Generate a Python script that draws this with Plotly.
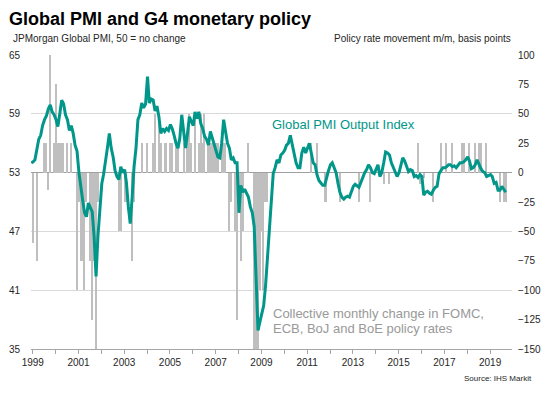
import plotly.graph_objects as go
import pandas as pd

# ---------------- data ----------------
months = pd.date_range("1999-01-01", periods=250, freq="MS")

pmi = [
    54.0, 54.1, 54.3, 55.5, 56.4, 56.8, 57.8, 58.4, 58.8, 59.5, 59.9, 59.2,  # 1999
    58.9, 58.4, 57.7, 59.0, 60.4, 60.0, 58.9, 58.4, 57.3, 57.8, 57.0, 55.8,  # 2000
    55.2, 53.0, 51.5, 50.2, 48.9, 48.5, 49.9, 49.5, 49.0, 46.5, 42.4, 46.5,  # 2001
    49.5, 51.9, 52.8, 54.0, 55.5, 57.0, 55.5, 54.6, 53.2, 52.6, 52.3, 53.6,  # 2002
    53.0, 53.3, 52.0, 49.5, 47.8, 50.5, 53.6, 55.5, 58.4, 58.9, 60.1, 59.6,  # 2003
    60.0, 62.8, 60.1, 60.5, 60.4, 59.3, 59.8, 58.7, 57.0, 57.5, 57.2, 57.5,  # 2004
    57.3, 57.9, 57.5, 56.8, 56.0, 55.5, 56.5, 58.9, 57.0, 55.5, 57.0, 58.7,  # 2005
    58.2, 57.8, 59.2, 58.5, 59.2, 58.0, 57.5, 56.7, 56.4, 55.8, 57.2, 56.5,  # 2006
    56.0, 55.2, 54.6, 54.5, 56.0, 58.4, 57.0, 56.0, 55.5, 54.3, 54.5, 54.0,  # 2007
    54.0, 48.9, 51.7, 51.0, 51.3, 50.8, 50.5, 49.5, 48.9, 47.5, 43.0, 36.9,  # 2008
    37.8, 38.7, 39.4, 41.5, 44.5, 47.5, 49.5, 52.9, 53.5, 54.3, 54.0, 54.8,  # 2009
    55.0, 55.3, 55.8, 56.0, 56.8, 55.8, 55.0, 54.0, 53.5, 53.5, 55.0, 55.6,  # 2010
    55.0, 55.6, 56.0, 55.0, 54.0, 53.8, 52.8, 52.2, 51.9, 51.7, 51.7, 52.5,  # 2011
    53.2, 53.8, 54.0, 53.5, 53.0, 51.9, 51.0, 50.5, 50.3, 50.5, 50.6, 50.5,  # 2012
    51.0, 51.6, 51.8, 51.6, 51.5, 52.0, 52.6, 53.0, 53.3, 53.8, 53.5, 53.0,  # 2013
    52.9, 53.5, 53.8, 52.6, 53.0, 54.0, 55.1, 55.0, 54.8, 54.0, 53.5, 52.9,  # 2014
    52.6, 53.0, 53.8, 54.5, 54.2, 53.5, 53.1, 53.3, 53.2, 52.6, 52.7, 52.5,  # 2015
    52.8, 52.6, 50.7, 51.0, 51.1, 50.9, 50.8, 51.2, 51.5, 51.6, 52.9, 53.2,  # 2016
    53.5, 53.5, 53.6, 53.8, 53.8, 53.6, 53.7, 53.5, 53.8, 54.0, 54.0, 54.1,  # 2017
    54.3, 54.6, 54.2, 53.4, 53.5, 53.8, 54.3, 53.8, 53.4, 53.1, 53.0, 52.6,  # 2018
    52.7, 52.8, 52.6, 51.9, 52.0, 51.2, 51.2, 51.6, 51.3, 51.0,              # 2019
]

policy_months = [
    "1999-02", "1999-04", "1999-08", "1999-09", "1999-10", "1999-11",
    "2000-01", "2000-02", "2000-03", "2000-04", "2000-05", "2000-06", "2000-08", "2000-10",
    "2001-01", "2001-02", "2001-03", "2001-04", "2001-05", "2001-06", "2001-08",
    "2001-09", "2001-10", "2001-11", "2001-12",
    "2002-11", "2002-12",
    "2003-02", "2003-03", "2003-06", "2003-07", "2003-11",
    "2004-02", "2004-05", "2004-06", "2004-08", "2004-09", "2004-11", "2004-12",
    "2005-02", "2005-03", "2005-05", "2005-06", "2005-09", "2005-11", "2005-12",
    "2006-01", "2006-03", "2006-05", "2006-06", "2006-07", "2006-08", "2006-10", "2006-11", "2006-12",
    "2007-01", "2007-02", "2007-03", "2007-05", "2007-06", "2007-07", "2007-09", "2007-10", "2007-12",
    "2008-01", "2008-02", "2008-03", "2008-04", "2008-07", "2008-10", "2008-11", "2008-12",
    "2009-01", "2009-02", "2009-03", "2009-04", "2009-05",
    "2011-04", "2011-07", "2011-11", "2011-12",
    "2012-07", "2013-05", "2013-11", "2014-06", "2014-09",
    "2015-12", "2016-01", "2016-03", "2016-08", "2016-12",
    "2017-03", "2017-06", "2017-11", "2017-12",
    "2018-03", "2018-06", "2018-08", "2018-09", "2018-12",
    "2019-07", "2019-09", "2019-10",
]
policy_bp = [
    -60, -75, 25, 25, -15, 100,
    25, 75, 25, 25, 25, 25, 25, 25,
    -100, -25, -75, -75, -100, -25, -75,
    -125, -75, -150, -25,
    -50, -50,
    -25, -25, -75, -25, 25,
    25, 25, 50, 50, 25, 25, 25,
    25, 25, 25, 25, 25, 25, 50,
    25, 50, 25, 50, 25, 50, 25, 25, 25,
    25, 25, 25, 25, 25, 25, -50, -25, -50,
    -125, -25, -75, -50, 25, -150, -150, -150,
    -100, -50, -100, -25, -25,
    25, 25, -25, -25,
    -25, -25, -25, -10, -10,
    25, -10, -5, -25, 25,
    25, 25, 25, 25,
    25, 25, 25, 25, 25,
    -25, -25, -25,
]

pmi_ticks = [35, 41, 47, 53, 59, 65]
bp_ticks = [-150, -125, -100, -75, -50, -25, 0, 25, 50, 75, 100]
year_ticks = list(range(1999, 2020))

# ---------------- styling ----------------
FONT = "Liberation Sans, Arial, sans-serif"
TEAL = "#00968A"
BAR = "#BFBFBF"
TXT = "#262626"

# the page body adds an 8px offset; lay out in reference pixel coords minus 8
OFF = 8
W, H = 552 - OFF, 394 - OFF
L, T = 31 - OFF, 55 - OFF
R = W - (512 - OFF)
B = H - (349 - OFF)
PW, PH = W - L - R, H - T - B


def px(x):
    return (x - OFF - L) / PW


def py(y):
    return (H - B - (y - OFF)) / PH


fig = go.Figure()

fig.add_trace(go.Bar(
    x=pd.to_datetime([m + "-01" for m in policy_months]),
    y=policy_bp,
    marker=dict(color=BAR, line=dict(width=0)),
    width=21 * 86400000,
    yaxis="y",
    hoverinfo="x+y",
))

fig.add_trace(go.Scatter(
    x=months,
    y=pmi,
    mode="lines",
    line=dict(color=TEAL, width=3),
    yaxis="y2",
))

tickdates = [pd.Timestamp(f"{y}-01-25") for y in year_ticks]
ticktext = [str(y) if (y - 1999) % 2 == 0 else "" for y in year_ticks]

fig.update_layout(
    width=W, height=H,
    margin=dict(l=L, r=R, t=T, b=B, pad=0, autoexpand=False),
    paper_bgcolor="white", plot_bgcolor="white",
    showlegend=False,
    bargap=0,
    font=dict(family=FONT, size=10, color=TXT),
    xaxis=dict(
        type="date", automargin=False,
        range=["1998-12-28", "2020-01-10"],
        tickvals=tickdates, ticktext=ticktext,
        ticks="outside", ticklen=4, tickcolor="#A6A6A6", tickwidth=1,
        showline=True, linecolor="#A6A6A6", linewidth=1,
        showgrid=False, zeroline=False,
        tickfont=dict(size=10, color=TXT),
    ),
    yaxis=dict(
        side="right", automargin=False,
        range=[-150, 100],
        tickvals=bp_ticks,
        ticks="outside", ticklen=3, tickcolor="rgba(0,0,0,0)",
        showgrid=False,
        zeroline=True, zerolinecolor="#A0A0A0", zerolinewidth=1,
        showline=False,
        tickfont=dict(size=10, color=TXT),
    ),
    yaxis2=dict(
        overlaying="y", side="left", automargin=False,
        range=[35, 65],
        tickvals=pmi_ticks,
        ticks="outside", ticklen=8, tickcolor="rgba(0,0,0,0)",
        showgrid=True, gridcolor="#D9D9D9", gridwidth=1,
        zeroline=False, showline=False,
        tickfont=dict(size=10, color=TXT),
    ),
)

ann = [
    dict(text="<b>Global PMI and G4 monetary policy</b>", x=px(7), y=py(18.5),
         xanchor="left", yanchor="middle", font=dict(size=18, color="#000000")),
    dict(text="JPMorgan Global PMI, 50 = no change", x=px(11), y=py(38),
         xanchor="left", yanchor="middle", font=dict(size=10, color=TXT)),
    dict(text="Policy rate movement m/m, basis points", x=px(513), y=py(38),
         xanchor="right", yanchor="middle", font=dict(size=10, color=TXT)),
    dict(text="Global PMI Output Index", x=px(270), y=py(124),
         xanchor="left", yanchor="middle", font=dict(size=13, color=TEAL)),
    dict(text="Collective monthly change in FOMC,", x=px(271), y=py(313),
         xanchor="left", yanchor="middle", font=dict(size=13, color="#999999")),
    dict(text="ECB, BoJ and BoE policy rates", x=px(271), y=py(328),
         xanchor="left", yanchor="middle", font=dict(size=13, color="#999999")),
    dict(text="Source: IHS Markit", x=px(534), y=py(379),
         xanchor="right", yanchor="middle", font=dict(size=8, color=TXT)),
]
for a in ann:
    a.update(xref="paper", yref="paper", showarrow=False)
fig.update_layout(annotations=ann)

fig.write_html("out.html")
